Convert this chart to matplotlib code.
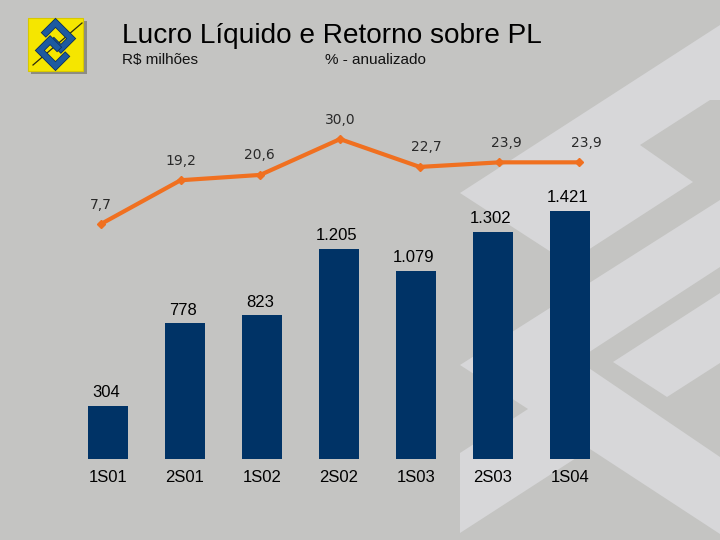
import numpy as np
import matplotlib
matplotlib.use("Agg")
import matplotlib.pyplot as plt
from matplotlib.patches import Polygon, Rectangle
import matplotlib.patheffects as pe

plt.rcParams['font.family'] = ['Liberation Sans', 'DejaVu Sans']

# ── Dados ────────────────────────────────────────────────────────────────────
PERIODOS = ["1S01", "2S01", "1S02", "2S02", "1S03", "2S03", "1S04"]
LUCRO = [304, 778, 823, 1205, 1079, 1302, 1421]           # R$ milhões
LUCRO_TXT = ["304", "778", "823", "1.205", "1.079", "1.302", "1.421"]
RSPL = [7.7, 19.2, 20.6, 30.0, 22.7, 23.9, 23.9]          # % anualizado
RSPL_TXT = ["7,7", "19,2", "20,6", "30,0", "22,7", "23,9", "23,9"]

# ── Estilo ───────────────────────────────────────────────────────────────────
BG = "#c4c4c2"
WM = "#d7d7d9"
NAVY = "#003366"
ORANGE = "#f07020"
W, H = 720, 540

fig = plt.figure(figsize=(7.2, 5.4), dpi=100, facecolor=BG)


def rect_px(x0, y0, x1, y1):
    """pixel box (origem topo-esquerda) -> retângulo em fração da figura"""
    return [x0 / W, 1 - y1 / H, (x1 - x0) / W, (y1 - y0) / H]


# fundo + marca d'água + logo, em coordenadas de pixel
bg = fig.add_axes([0, 0, 1, 1], zorder=0)
bg.set_xlim(0, W)
bg.set_ylim(H, 0)
bg.axis("off")

clip = Rectangle((460, 0), 260, 540, transform=bg.transData)
wm_shapes = [
    # bloco superior com entalhe
    ([(720, 25), (460, 193), (568, 263), (693, 182), (640, 145), (710, 100), (720, 100)], WM),
    # grande "<" inferior + faixa de baixo
    ([(720, 200), (460, 365), (528, 409), (460, 453), (460, 533), (590, 449), (720, 534)], WM),
    # chevron escuro interno
    ([(720, 267), (577, 360), (720, 457)], BG),
    # faixa clara dentro do chevron
    ([(720, 293), (613, 362), (667, 397), (720, 363)], WM),
]
for pts, col in wm_shapes:
    p = Polygon(pts, closed=True, facecolor=col, edgecolor="none")
    bg.add_patch(p)
    p.set_clip_path(clip)

# logo BB
bg.add_patch(Rectangle((31, 21), 56, 53, facecolor="#8c8c84", edgecolor="none"))
bg.add_patch(Rectangle((28, 18), 55, 53, facecolor="#f5e600", edgecolor="#d8c800", lw=0.8))
bg.plot([33, 82], [65, 23], color="#2a2a10", lw=0.9)
cx, cy, s = 55.5, 44.5, 15.0
for sign in (1, -1):
    uv = np.array([(-1.0, -0.1), (-1.0, -1.0), (0.45, -1.0), (0.45, -0.05), (-0.2, -0.05)])
    uv = uv * sign
    xs = cx + (uv[:, 0] - uv[:, 1]) * s * 0.72
    ys = cy + (uv[:, 0] + uv[:, 1]) * s * 0.72
    bg.plot(xs, ys, color="#1d5aa0", lw=4.0, solid_joinstyle="miter",
            path_effects=[pe.Stroke(linewidth=5.2, foreground="#0d2f5c"), pe.Normal()])

# títulos
bg.text(122, 43, "Lucro Líquido e Retorno sobre PL", fontsize=20.2, color="black", va="baseline")
bg.text(122, 64, "R$ milhões", fontsize=11, color="#111111", va="baseline")
bg.text(325, 64, "% - anualizado", fontsize=11, color="#111111", va="baseline")

# ── Barras: lucro líquido ────────────────────────────────────────────────────
ax = fig.add_axes(rect_px(69.5, 110, 608.5, 459), zorder=2)
ax.patch.set_alpha(0)
x = np.arange(len(PERIODOS))
ax.bar(x, LUCRO, width=0.52, color=NAVY, edgecolor="none")
for xi, v, t in zip(x, LUCRO, LUCRO_TXT):
    ax.annotate(t, (xi, v), xytext=(-1.5, 4), textcoords="offset points",
                ha="center", va="bottom", fontsize=12, color="black")
ax.set_xlim(-0.5, len(PERIODOS) - 0.5)
ax.set_ylim(0, 2000)
ax.set_xticks(x)
ax.set_xticklabels(PERIODOS, fontsize=12, color="black")
ax.tick_params(axis="x", length=0, pad=8)
ax.set_yticks([])
for sp in ax.spines.values():
    sp.set_visible(False)

# ── Linha: retorno sobre PL ──────────────────────────────────────────────────
ax2 = fig.add_axes(rect_px(61, 101, 619, 253.4), zorder=3)
ax2.patch.set_alpha(0)
ax2.plot(x, RSPL, color=ORANGE, lw=3, marker="D", markersize=4.5,
         markerfacecolor=ORANGE, markeredgecolor=ORANGE, solid_joinstyle="round")
dx = [0, 0, -1, 0, 5, 5, 5]
for xi, v, t, d in zip(x, RSPL, RSPL_TXT, dx):
    ax2.annotate(t, (xi, v), xytext=(d, 9), textcoords="offset points",
                 ha="center", va="bottom", fontsize=10, color="#2a2a2a",
                 family="DejaVu Sans")
ax2.set_xlim(-0.5, len(PERIODOS) - 0.5)
ax2.set_ylim(0, 40)
ax2.axis("off")

fig.savefig("out.png", dpi=100, facecolor=BG)
